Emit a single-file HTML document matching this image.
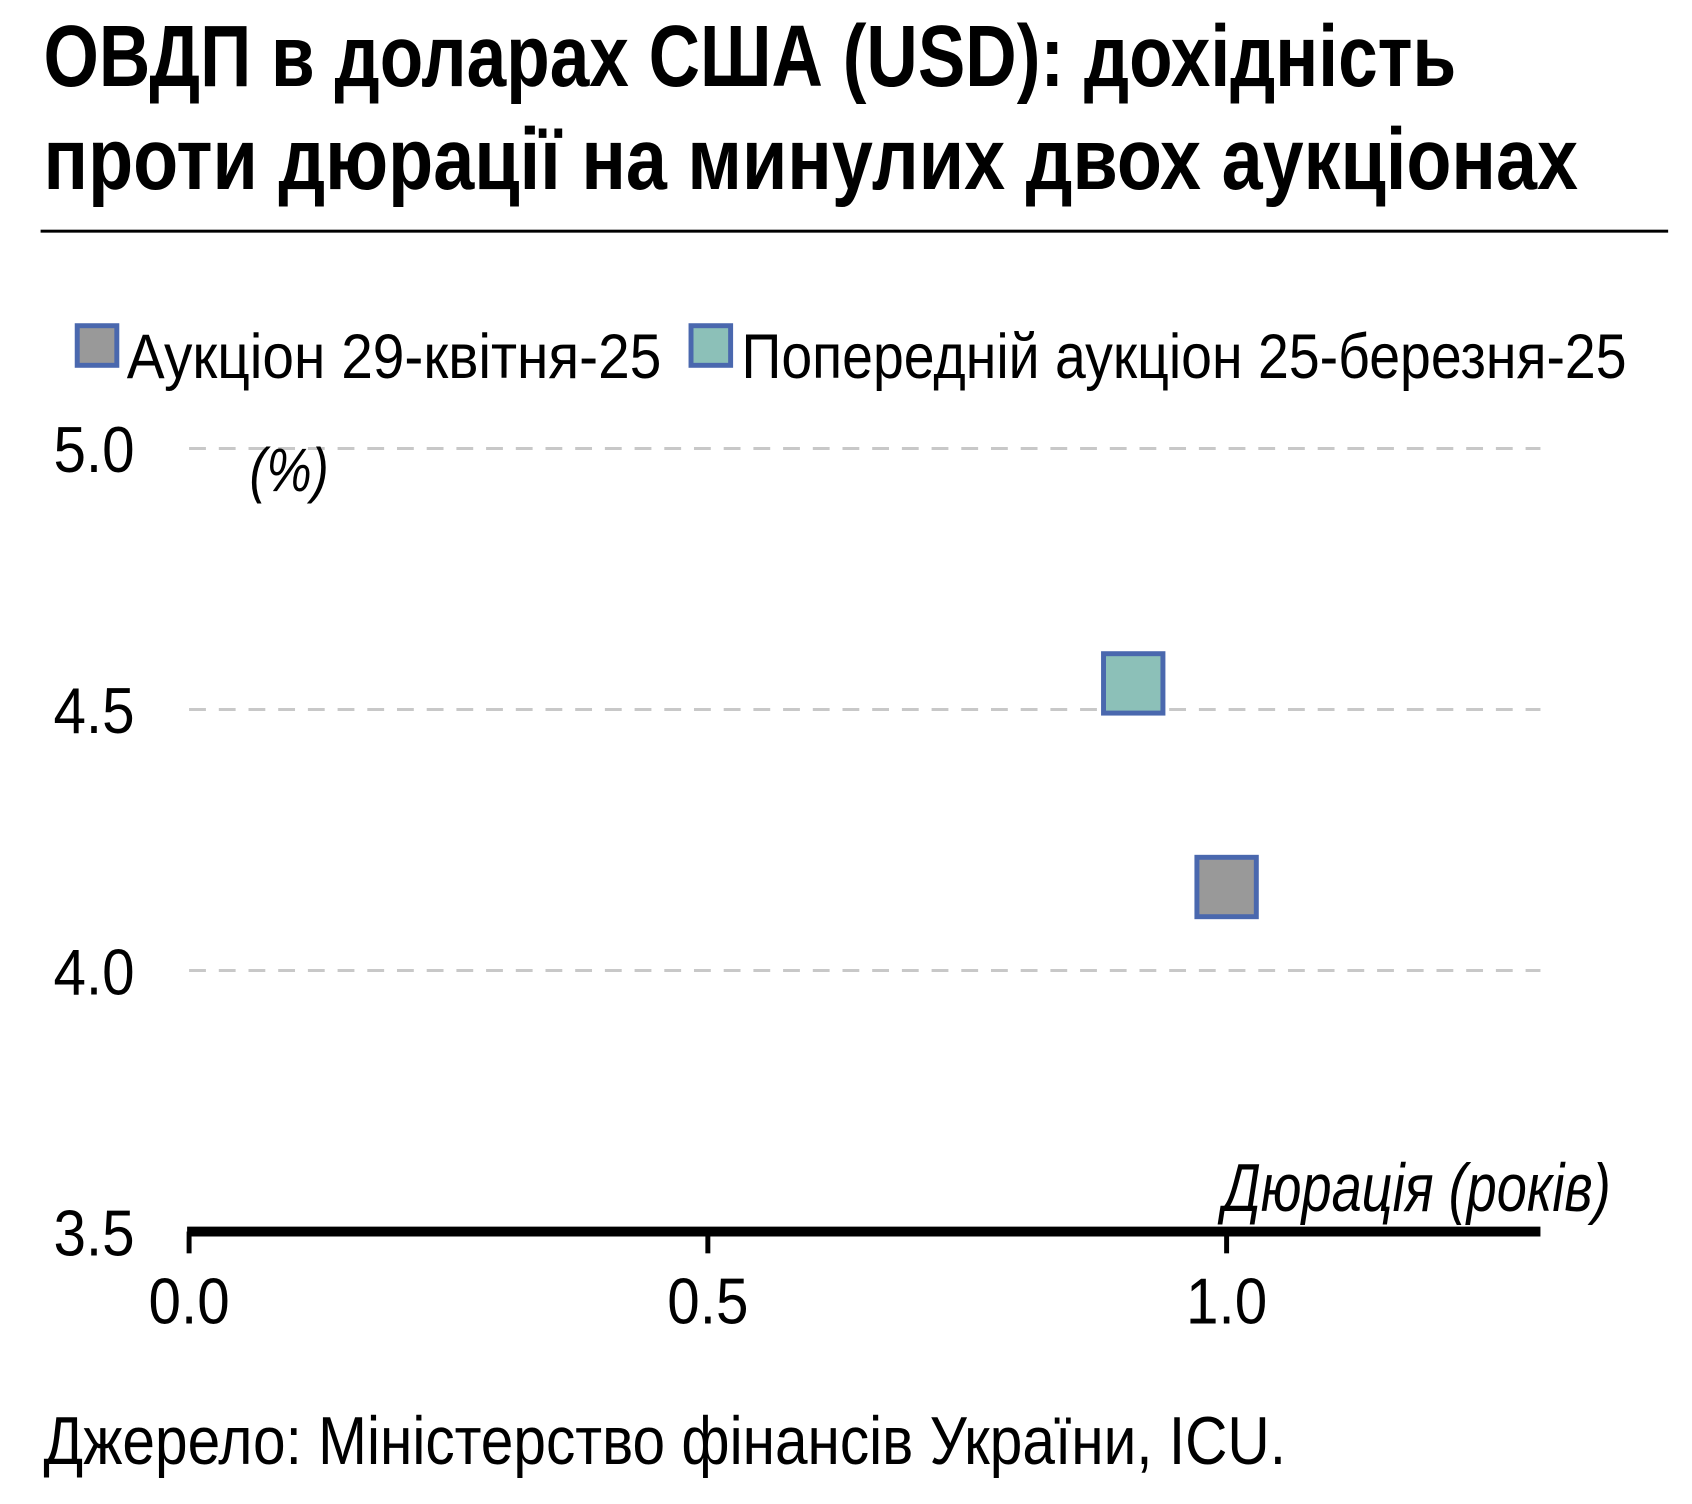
<!DOCTYPE html>
<html><head><meta charset="utf-8"><style>html,body{margin:0;padding:0;background:#fff}svg{display:block}text{font-family:"Liberation Sans",sans-serif}</style></head>
<body>
<svg id="chart" width="1692" height="1504" viewBox="0 0 1692 1504" xmlns="http://www.w3.org/2000/svg">
<g transform="scale(0.99)">
<text x="44" y="87" font-size="88" font-weight="bold" textLength="1427" lengthAdjust="spacingAndGlyphs">ОВДП в доларах США (USD): дохідність</text>
<text x="44" y="191" font-size="88" font-weight="bold" textLength="1550" lengthAdjust="spacingAndGlyphs">проти дюрації на минулих двох аукціонах</text>
<rect x="41" y="232" width="1644" height="3" fill="#000"/>
<rect x="78" y="329" width="40" height="40" fill="#999" stroke="#4a68ae" stroke-width="5"/>
<text x="128" y="382" font-size="64" textLength="540" lengthAdjust="spacingAndGlyphs">Аукціон 29-квітня-25</text>
<rect x="698" y="329" width="40" height="40" fill="#8cc0b8" stroke="#4a68ae" stroke-width="5"/>
<text x="749" y="382" font-size="64" textLength="894" lengthAdjust="spacingAndGlyphs">Попередній аукціон 25-березня-25</text>
<g id="grid"></g><g id="yticks"></g><g id="xticks"></g><g id="points"></g>
<text x="252" y="496" font-size="62" font-style="italic" textLength="80" lengthAdjust="spacingAndGlyphs">(%)</text>
<text x="1627" y="1223" font-size="68" font-style="italic" text-anchor="end" textLength="392" lengthAdjust="spacingAndGlyphs">Дюрація (років)</text>
<text x="44" y="1479" font-size="68" textLength="1255" lengthAdjust="spacingAndGlyphs">Джерело: Міністерство фінансів України, ICU.</text>
</g>
</svg>
<script>
const yTicks=[3.5,4.0,4.5,5.0];
const yTickLabels=["3.5","4.0","4.5","5.0"];
const xTicks=[0,0.5,1.0];
const xTickLabels=["0.0","0.5","1.0"];
const seriesNames=["Аукціон 29-квітня-25","Попередній аукціон 25-березня-25"];
const seriesDuration=[1.0,0.91];
const seriesYield=[4.16,4.55];
const seriesFill=["#999","#8cc0b8"];
const NS="http://www.w3.org/2000/svg";
const X0=191,X1=1556,xMin=0,xMax=(1556-191)/1048;
const Y0=1244,Y1=453,yMin=3.5,yMax=5.0;
const sx=v=>X0+(v-xMin)/(xMax-xMin)*(X1-X0);
const sy=v=>Y0-(v-yMin)/(yMax-yMin)*(Y0-Y1);
function mk(tag,attrs,parent){const e=document.createElementNS(NS,tag);for(const k in attrs)e.setAttribute(k,attrs[k]);parent.appendChild(e);return e;}
const grid=document.getElementById('grid'),yt=document.getElementById('yticks'),xt=document.getElementById('xticks'),pts=document.getElementById('points');
yTicks.forEach((v,i)=>{
 if(v>yMin){const l=mk('line',{x1:X0,x2:X1,y1:sy(v),y2:sy(v),stroke:'#c8c8c8','stroke-width':3,'stroke-dasharray':'17 13'},grid);
 
 }
 const t=mk('text',{x:136,y:sy(v)+24,'font-size':66,'text-anchor':'end',textLength:82,lengthAdjust:'spacingAndGlyphs'},yt);
 t.textContent=yTickLabels[i];
 
 
});
const ax=mk('line',{x1:X0-2,x2:X1,y1:Y0,y2:Y0,stroke:'#000','stroke-width':10},xt);


xTicks.forEach((v,i)=>{
 const tk=mk('line',{x1:sx(v),x2:sx(v),y1:Y0,y2:Y0+22,stroke:'#000','stroke-width':5},xt);
 
 
 const t=mk('text',{x:sx(v),y:1337,'font-size':66,'text-anchor':'middle',textLength:82,lengthAdjust:'spacingAndGlyphs'},xt);
 t.textContent=xTickLabels[i];
 
 
});
seriesDuration.forEach((d,i)=>{
 const s=60;
 const r=mk('rect',{x:sx(d)-s/2,y:sy(seriesYield[i])-s/2,width:s,height:s,fill:seriesFill[i],stroke:'#4a68ae','stroke-width':5},pts);
 
 
});
</script>
</body></html>
